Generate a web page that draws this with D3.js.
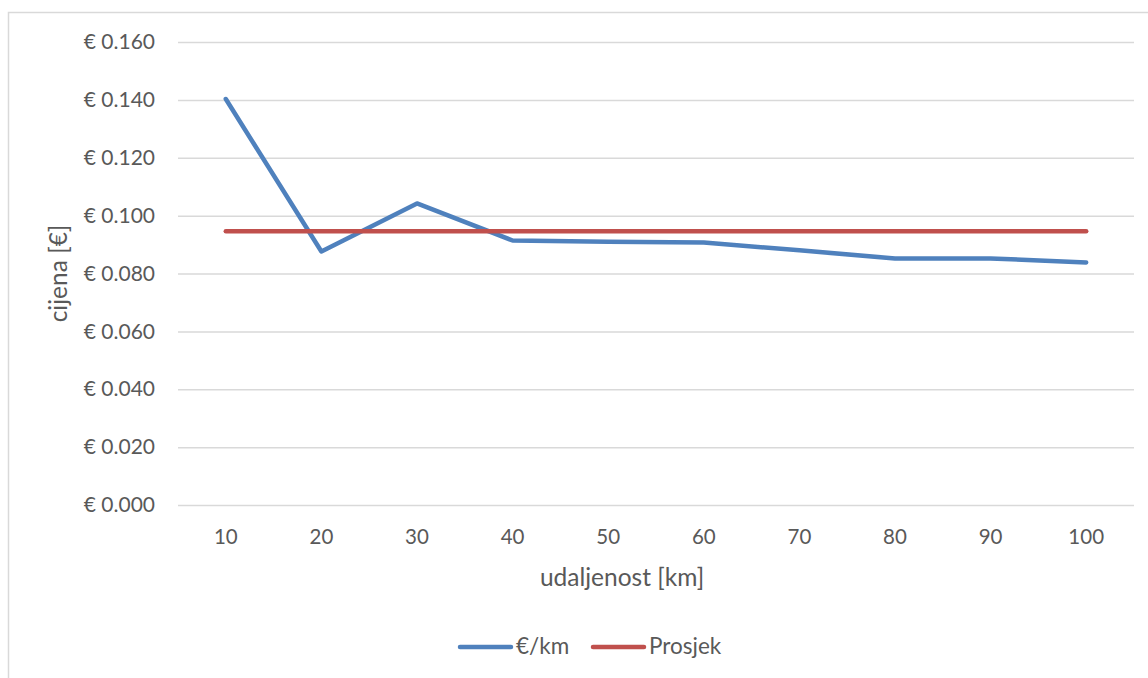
<!DOCTYPE html>
<html><head><meta charset="utf-8">
<script src="https://cdn.jsdelivr.net/npm/d3@7"></script>
<style>body{margin:0;background:#fff}svg{display:block}text{font-family:Lato,"Open Sans",sans-serif;fill:#595959}</style>
</head><body><svg id="c" width="1148" height="678"></svg>
<script>
const categories = ["10","20","30","40","50","60","70","80","90","100"];
const pricePerKm = [0.1403,0.0876,0.1042,0.0914,0.0910,0.0907,0.0880,0.0852,0.0852,0.0838];
const average = [0.0946,0.0946,0.0946,0.0946,0.0946,0.0946,0.0946,0.0946,0.0946,0.0946];
const yTicks = [0,0.02,0.04,0.06,0.08,0.10,0.12,0.14,0.16];
const seriesNames = ["€/km","Prosjek"];
const colors = ["#4f81bd","#c0504d"];

(function(){
const svg = d3.select("#c");
svg.append("rect").attr("x",8.5).attr("y",12.5).attr("width",1160).attr("height",700)
  .attr("fill","none").attr("stroke","#d9d9d9").attr("stroke-width",1.5);

const pL=178, pR=1134, pT=42, pB=505;
const x = d3.scaleBand().domain(categories).range([pL,pR]);
const y = d3.scaleLinear().domain([0,0.16]).range([pB,pT]);

const yAxis = d3.axisLeft(y).tickValues(yTicks).tickSize(-(pR-pL)).tickPadding(23)
  .tickFormat(d=>"€ "+d3.format(".3f")(d));
const gy = svg.append("g").attr("transform",`translate(${pL},0)`).call(yAxis);
gy.select(".domain").remove();
gy.selectAll("line").attr("stroke","#d9d9d9").attr("stroke-width",1.5);
gy.selectAll("text").attr("font-size",21).attr("fill","#595959");

const xAxis = d3.axisBottom(x).tickSize(0).tickPadding(24);
const gx = svg.append("g").attr("transform",`translate(0,${pB})`).call(xAxis);
gx.select(".domain").remove();
gx.selectAll("text").attr("font-size",20.5).attr("fill","#595959");

svg.append("text").attr("x",622).attr("y",586).attr("text-anchor","middle")
  .attr("font-size",24.5).text("udaljenost [km]");
svg.append("text").attr("transform",`translate(67,${(pT+pB)/2}) rotate(-90)`)
  .attr("text-anchor","middle").attr("font-size",24.5).text("cijena [€]");

const line = d3.line().x((d,i)=>x(categories[i])+x.bandwidth()/2).y(d=>y(d));
[pricePerKm,average].forEach((s,k)=>{
  svg.append("path").datum(s).attr("d",line).attr("fill","none")
    .attr("stroke",colors[k]).attr("stroke-width",4.5)
    .attr("stroke-linejoin","round").attr("stroke-linecap","round");
});

const legX=[458,591];
seriesNames.forEach((n,k)=>{
  svg.append("line").attr("x1",legX[k]+2).attr("x2",legX[k]+53).attr("y1",647).attr("y2",647)
    .attr("stroke",colors[k]).attr("stroke-width",4.5).attr("stroke-linecap","round");
  svg.append("text").attr("x",legX[k]+58).attr("y",654).attr("font-size",22.5).text(n);
});
})();
</script></body></html>
